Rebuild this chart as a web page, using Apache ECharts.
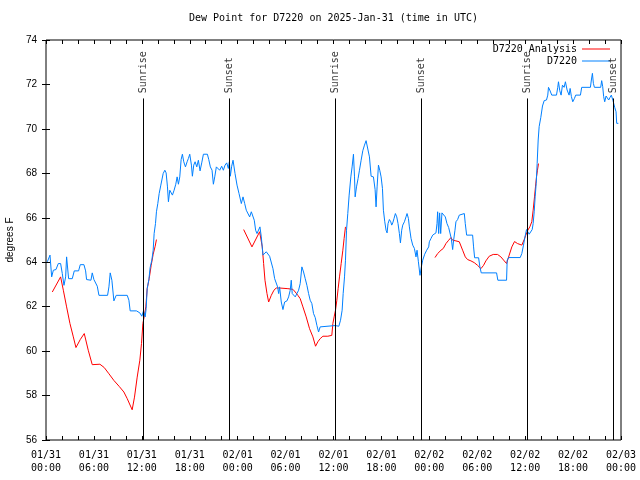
<!DOCTYPE html>
<html><head><meta charset="utf-8">
<script src="https://cdn.jsdelivr.net/npm/echarts@6/dist/echarts.min.js"></script>
<style>html,body{margin:0;padding:0;background:#fff}#c{width:640px;height:480px}</style>
</head><body><div id="c"></div>
<script>
// Time values are hours since 2025-01-31 00:00 UTC
const xTickLabels = ['01/31\n00:00','01/31\n06:00','01/31\n12:00','01/31\n18:00',
  '02/01\n00:00','02/01\n06:00','02/01\n12:00','02/01\n18:00',
  '02/02\n00:00','02/02\n06:00','02/02\n12:00','02/02\n18:00','02/03\n00:00'];
const sunEventNames = ['Sunrise','Sunset','Sunrise','Sunset','Sunrise','Sunset'];
const sunEventHours = [12.18, 22.95, 36.23, 47.05, 60.27, 71.04];

// D7220 observed dew point [hour, degF]
const d7220 = [
[0.17,64.02],[0.5,64.32],[0.71,63.34],[0.92,63.64],[1.25,63.67],[1.54,63.94],[1.83,63.94],[2.04,63.49],
[2.25,62.96],[2.46,63.34],[2.58,64.24],[2.83,63.26],[3.29,63.26],[3.54,63.61],[4.08,63.61],[4.29,63.89],
[4.75,63.89],[4.96,63.61],[5.08,63.22],[5.63,63.19],[5.79,63.52],[6.0,63.22],[6.21,63.31],[6.42,62.92],
[6.63,62.51],[7.71,62.51],[7.88,62.89],[8.04,63.52],[8.25,63.19],[8.5,62.26],[8.79,62.51],[10.17,62.51],
[10.38,62.29],[10.54,61.81],[11.33,61.81],[11.75,61.72],[12.0,61.57],[12.21,61.81],[12.42,61.54],[12.54,61.91],
[12.67,62.81],[12.88,63.22],[13.04,63.76],[13.25,64.09],[13.42,64.54],[13.54,65.29],[13.71,65.74],[13.83,66.27],
[14.0,66.64],[14.17,67.09],[14.38,67.47],[14.67,67.99],[14.88,68.14],[15.04,68.02],[15.21,67.39],[15.33,66.72],
[15.5,67.24],[15.67,67.27],[15.83,67.02],[16.04,67.24],[16.25,67.51],[16.42,67.84],[16.58,67.51],[16.75,67.84],
[16.92,68.62],[17.08,68.86],[17.25,68.52],[17.46,68.29],[17.67,68.52],[17.83,68.67],[18.0,68.86],[18.21,68.37],
[18.33,67.87],[18.5,68.37],[18.67,68.52],[18.88,68.29],[19.08,68.59],[19.29,68.11],[19.5,68.47],[19.71,68.86],
[20.21,68.86],[20.38,68.62],[20.58,68.29],[20.79,68.14],[20.96,67.51],[21.13,67.84],[21.33,68.29],[21.75,68.14],
[22.0,68.32],[22.21,68.14],[22.42,68.37],[22.63,68.47],[22.83,68.22],[22.96,68.52],[23.08,67.87],[23.25,68.32],
[23.42,68.59],[23.67,67.99],[23.92,67.47],[24.17,67.09],
[24.46,66.64],[24.67,66.94],[24.88,66.64],[25.08,66.34],[25.29,66.27],[25.5,66.04],[25.71,66.27],[25.92,66.27],
[26.08,65.89],[26.25,65.44],[26.42,65.29],[26.67,65.29],[26.79,65.59],[26.96,65.14],[27.17,64.32],[27.38,64.24],
[27.58,64.47],[27.79,64.54],[28.0,64.27],[28.25,64.24],[28.42,63.71],[28.63,63.26],[28.83,63.22],[29.0,62.89],
[29.13,62.59],[29.25,62.89],[29.46,62.21],[29.67,61.87],[29.88,62.21],[30.17,62.26],[30.38,62.44],[30.58,62.74],
[30.71,63.19],[30.83,62.59],[31.0,62.51],[31.21,62.44],[31.42,62.59],[31.63,62.74],[31.83,63.04],[32.04,63.79],
[32.25,63.56],[32.46,63.26],[32.67,62.96],[32.88,62.59],[33.08,62.29],[33.29,62.14],[33.5,61.69],[33.71,61.51],
[33.92,61.16],[34.13,60.86],[34.33,61.09],[34.54,61.15],[36.21,61.15],[36.42,61.09],[36.67,61.12],[36.88,61.39],
[37.08,61.84],[37.21,62.59],[37.38,63.34],[37.5,64.09],[37.63,65.44],[37.79,66.19],[37.96,67.02],[38.17,67.84],
[38.33,68.29],[38.5,68.86],[38.63,67.84],[38.71,66.94],[38.88,67.39],[39.08,67.77],[39.25,68.14],[39.46,68.59],
[39.67,69.02],[39.88,69.27],[40.08,69.47],[40.29,69.38],[40.5,68.74],[40.71,67.87],[41.0,67.84],[41.21,67.27],
[41.33,66.49],[41.46,67.39],[41.63,68.37],[41.79,68.14],[41.96,67.84],[42.13,67.32],[42.25,66.34],[42.42,65.82],
[42.58,65.44],[42.71,65.32],[42.83,65.74],[43.0,65.92],[43.17,65.82],[43.29,65.67],[43.42,65.77],[43.58,65.97],
[43.75,66.19],[43.92,66.04],[44.08,65.74],[44.25,65.29],[44.38,64.87],[44.54,65.44],[44.67,65.67],[44.88,65.82],
[45.08,66.04],[45.21,66.19],[45.38,65.97],[45.5,65.59],[45.71,65.07],[45.92,64.77],[46.13,64.62],[46.33,64.24],
[46.46,64.54],[46.63,64.02],[46.83,63.41],[47.0,63.79],[47.17,64.09],[47.42,64.36],[47.67,64.54],[47.92,64.69],
[48.0,64.92],[48.21,65.07],[48.42,65.22],[48.63,65.29],[48.83,65.32],[48.96,65.74],[49.04,66.27],[49.17,65.29],
[49.29,66.22],[49.42,65.29],[49.58,66.22],[49.79,66.27],[50.0,66.04],[50.21,65.74],[50.42,65.56],[50.63,65.52],
[50.75,65.07],[50.92,64.57],[51.04,64.99],[51.21,65.44],[51.33,65.82],[51.54,65.92],[51.75,66.12],[51.96,66.19],
[52.38,66.19],[52.5,65.74],[52.67,65.22],[53.42,65.22],[53.54,64.69],[53.67,64.2],[54.17,64.2],[54.33,63.79],
[54.5,63.52],[56.42,63.52],[56.58,63.19],[57.67,63.19],[57.75,64.09],[57.92,64.21],[59.38,64.21],[59.58,64.39],
[59.79,64.77],[59.96,65.11],[60.17,65.47],[60.33,65.52],[60.5,65.26],[60.71,65.22],[60.88,65.47],[61.0,65.74],
[61.13,66.27],[61.25,66.94],[61.38,67.54],[61.5,68.44],[61.63,69.5],[61.75,70.1],[61.96,70.52],[62.17,71.03],
[62.38,71.27],[62.67,71.3],[62.83,71.52],[62.92,71.87],[63.08,71.75],[63.33,71.52],[63.92,71.52],[64.08,71.87],
[64.17,72.12],[64.33,71.72],[64.5,71.52],[64.67,71.97],[64.88,71.87],[65.04,72.12],[65.25,71.75],[65.5,71.52],
[65.63,71.82],[65.79,71.45],[65.96,71.22],[66.17,71.37],[66.33,71.52],[66.92,71.52],[67.08,71.87],[68.17,71.87],
[68.29,72.2],[68.42,72.5],[68.54,72.05],[68.67,71.87],[69.46,71.87],[69.58,72.17],[69.71,71.9],[69.83,71.45],
[69.96,71.22],[70.13,71.48],[70.29,71.52],[70.46,71.3],[70.63,71.42],[70.79,71.52],[71.0,71.27],[71.21,70.97],
[71.38,70.77],[71.46,70.25],[71.67,70.25]
];

// D7220 Analysis [hour, degF], three separate runs
const analysisRun1 = [
[0.79,62.66],[1.83,63.34],[2.17,62.74],[2.58,61.99],[3.0,61.24],[3.42,60.64],[3.75,60.16],[4.29,60.52],
[4.79,60.79],[5.29,60.04],[5.79,59.39],[6.75,59.41],[7.29,59.26],[7.88,58.98],[8.5,58.68],[9.17,58.41],
[9.75,58.16],[10.17,57.86],[10.79,57.36],[11.08,57.93],[11.42,58.83],[11.75,59.59],[11.96,60.34],[12.13,61.24],
[12.29,61.54],[12.5,61.99],[12.67,62.81],[12.92,63.26],[13.17,63.86],[13.42,64.36],[13.67,64.72],[13.83,65.02]
];
const analysisRun2 = [
[24.75,65.47],[25.79,64.69],[26.75,65.37],[27.08,64.69],[27.25,63.94],[27.42,63.19],[27.67,62.59],[27.88,62.21],
[28.21,62.51],[28.54,62.74],[28.83,62.84],[29.25,62.84],[30.29,62.81],[30.92,62.78],[31.21,62.66],[31.54,62.51],
[31.83,62.36],[32.17,61.99],[32.58,61.54],[33.0,61.01],[33.42,60.64],[33.75,60.22],[34.04,60.42],[34.33,60.56],
[34.67,60.67],[35.29,60.67],[35.79,60.71],[35.92,61.24],[36.08,61.54],[36.25,61.84],[36.42,62.29],[36.58,62.81],
[36.75,63.34],[36.96,63.94],[37.17,64.54],[37.33,65.07],[37.5,65.59]
];
const analysisRun3 = [
[48.71,64.21],[49.04,64.39],[49.46,64.54],[49.75,64.62],[50.08,64.84],[50.42,64.99],[50.71,65.11],[50.92,64.99],
[51.33,64.96],[51.75,64.92],[52.17,64.54],[52.5,64.24],[52.79,64.12],[53.21,64.06],[53.63,63.98],[54.04,63.86],
[54.46,63.71],[54.79,63.86],[55.08,64.06],[55.5,64.27],[56.0,64.35],[56.54,64.35],[56.96,64.24],[57.38,64.06],
[57.67,63.94],[58.0,64.32],[58.33,64.69],[58.67,64.93],[59.04,64.84],[59.58,64.77],[59.88,65.02],[60.08,65.22],
[60.33,65.44],[60.58,65.59],[60.83,65.82],[61.0,66.34],[61.17,66.94],[61.29,67.39],[61.42,67.84],[61.54,68.14],
[61.67,68.44]
];

const analysisData = analysisRun1.concat([[19, '-']], analysisRun2, [[43, '-']], analysisRun3);

const MONO = 'DejaVu Sans Mono';
const SANS = 'Liberation Sans';
const chart = echarts.init(document.getElementById('c'), null, {renderer: 'canvas'});

const xCommon = {
  type: 'value', min: 0, max: 72, interval: 6,
  axisLine: {show: false},
  axisTick: {show: true, inside: true, length: 4, lineStyle: {color: '#000', width: 1}},
  minorTick: {show: true, splitNumber: 3, length: 4, lineStyle: {color: '#000', width: 1}},
  splitLine: {show: false}, minorSplitLine: {show: false}
};
const yCommon = {
  type: 'value', min: 56, max: 74, interval: 2,
  axisLine: {show: false},
  axisTick: {show: true, inside: true, length: 4, lineStyle: {color: '#000', width: 1}},
  splitLine: {show: false}
};

chart.setOption({
  animation: false,
  backgroundColor: '#fff',
  title: {
    text: 'Dew Point for D7220 on 2025-Jan-31 (time in UTC)',
    left: 189, top: 13, padding: 0,
    textStyle: {fontFamily: MONO, fontSize: 10, fontWeight: 'normal', color: '#000'}
  },
  legend: [
    {data: ['D7220 Analysis'], right: 30, top: 44, padding: 0, align: 'right', icon: 'rect',
     itemWidth: 28, itemHeight: 1, textStyle: {fontFamily: MONO, fontSize: 10, color: '#000'}},
    {data: ['D7220'], right: 30, top: 56, padding: 0, align: 'right', icon: 'rect',
     itemWidth: 28, itemHeight: 1, textStyle: {fontFamily: MONO, fontSize: 10, color: '#000'}}
  ],
  grid: {left: 46, right: 19, top: 40, bottom: 40, containLabel: false, outerBoundsMode: 'none',
    show: true, borderColor: '#000', borderWidth: 1, backgroundColor: 'transparent'},
  xAxis: [
    Object.assign({}, xCommon, {position: 'bottom',
      axisLabel: {formatter: v => xTickLabels[Math.round(v / 6)], fontFamily: MONO, fontSize: 10,
        color: '#000', lineHeight: 13, margin: 9, showMinLabel: true, showMaxLabel: true}}),
    Object.assign({}, xCommon, {position: 'top', axisLabel: {show: false}})
  ],
  yAxis: [
    Object.assign({}, yCommon, {position: 'left',
      axisLabel: {fontFamily: SANS, fontSize: 10, color: '#000', margin: 9},
      name: 'degrees F', nameLocation: 'middle', nameGap: 30, nameRotate: 90,
      nameTextStyle: {fontFamily: SANS, fontSize: 10, color: '#000'}}),
    Object.assign({}, yCommon, {position: 'right', axisLabel: {show: false}})
  ],
  series: [
    {name: 'D7220 Analysis', type: 'line', data: analysisData, symbol: 'none', connectNulls: false,
     lineStyle: {color: '#ff0000', width: 1}, itemStyle: {color: '#ff0000'}, z: 3},
    {name: 'D7220', type: 'line', data: d7220, symbol: 'none',
     lineStyle: {color: '#0080ff', width: 1}, itemStyle: {color: '#0080ff'}, z: 4},
    {name: 'sun', type: 'scatter', symbolSize: 1, itemStyle: {color: 'rgba(0,0,0,0)'}, silent: true, z: 5,
     data: sunEventHours.map((h, i) => ({value: [h, 71.6], name: sunEventNames[i]})),
     label: {show: true, formatter: '{b}', position: 'inside', rotate: 90, align: 'left', verticalAlign: 'middle',
       fontFamily: MONO, fontSize: 10, color: '#000'},
     markLine: {silent: true, symbol: 'none', animation: false,
       label: {show: false}, lineStyle: {color: '#000', width: 1, type: 'solid'},
       data: sunEventHours.map(h => [{coord: [h, 56]}, {coord: [h, 71.37]}])}}
  ]
});
</script></body></html>
